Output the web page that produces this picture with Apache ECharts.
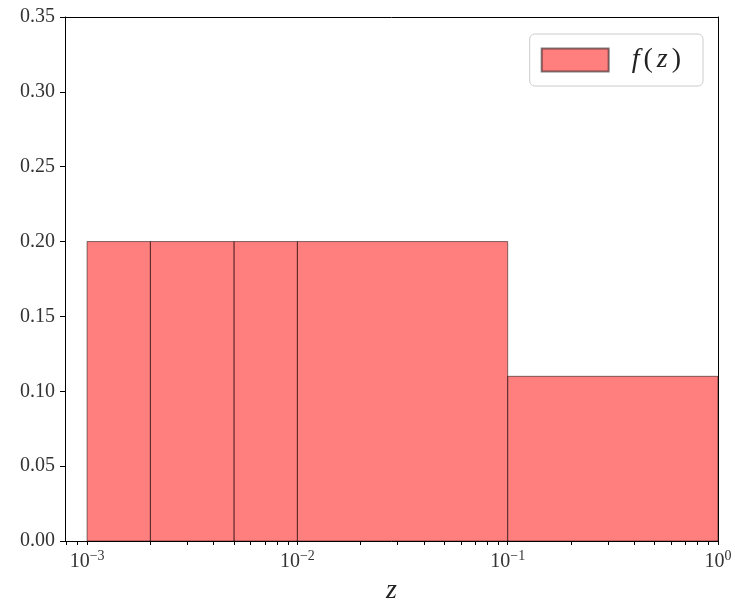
<!DOCTYPE html>
<html>
<head>
<meta charset="utf-8">
<script src="https://cdn.jsdelivr.net/npm/echarts@6/dist/echarts.min.js"></script>
<style>
  html, body { margin: 0; padding: 0; background: #fff; }
  #chart { width: 735px; height: 603px; }
</style>
</head>
<body>
<div id="chart"></div>
<script>
// histogram bins (z edges) and their heights
const binEdges = [0.001, 0.002, 0.005, 0.01, 0.1, 1];
const binHeights = [0.2, 0.2, 0.2, 0.2, 0.11];
const majorExponents = [-3, -2, -1, 0];

const xMin = -3.105, xMax = 0;
const serif = '"Liberation Serif", "DejaVu Serif", serif';

// minor log ticks 2..9 x 10^n inside the range
const minorTicks = [];
for (let n = -4; n <= -1; n++) {
  for (let k = 2; k <= 9; k++) {
    const v = Math.log10(k * Math.pow(10, n));
    if (v > xMin && v < xMax) minorTicks.push(v);
  }
}

const bars = binHeights.map((h, i) => [Math.log10(binEdges[i]), Math.log10(binEdges[i + 1]), h]);

// plain frame axes for the top/right spines
const frameLine = { show: true, onZero: false, lineStyle: { color: '#000', width: 1 } };

const chart = echarts.init(document.getElementById('chart'));
chart.setOption({
  animation: false,
  grid: {
    left: 65, right: 17, top: 17, bottom: 62,
    outerBoundsMode: 'none',
    containLabel: false
  },
  legend: {
    right: 32, top: 34,
    padding: [12, 18, 12, 11],
    borderColor: '#ccc', borderWidth: 1, borderRadius: 5,
    itemWidth: 67, itemHeight: 23, itemGap: 10,
    data: [{ name: 'f(z)', icon: 'rect' }],
    formatter: () => '{i|f}{r|(}{i|z}{r|)}',
    textStyle: {
      padding: [0, 0, 0, 18],
      rich: {
        i: { fontFamily: serif, fontStyle: 'italic', fontSize: 28, color: '#222', lineHeight: 30 },
        r: { fontFamily: serif, fontSize: 28, color: '#222', lineHeight: 30, padding: [0, 4, 0, 4] }
      }
    }
  },
  xAxis: [{
    type: 'value', min: xMin, max: xMax, position: 'bottom',
    name: 'z', nameLocation: 'middle', nameGap: 30,
    nameTextStyle: { fontFamily: serif, fontStyle: 'italic', fontSize: 28, color: '#222' },
    axisLine: frameLine,
    axisTick: { show: true, length: 4, inside: false, customValues: majorExponents.concat(minorTicks), lineStyle: { color: '#000' } },
    axisLabel: {
      customValues: majorExponents, margin: 8,
      formatter: v => '{b|10}{s|' + (v < 0 ? '\u2212' : '') + Math.abs(v) + '}',
      rich: {
        b: { fontFamily: serif, fontSize: 20, color: '#333' },
        s: { fontFamily: serif, fontSize: 14, color: '#333', padding: [0, 0, 11, 0] }
      }
    },
    splitLine: { show: false }
  }, {
    type: 'value', min: xMin, max: xMax, position: 'top',
    axisLine: frameLine, axisTick: { show: false }, axisLabel: { show: false }, splitLine: { show: false }
  }],
  yAxis: [{
    type: 'value', min: 0, max: 0.35, interval: 0.05, position: 'left',
    axisLine: frameLine,
    axisTick: { show: true, length: 5, lineStyle: { color: '#000' } },
    axisLabel: {
      margin: 10, fontFamily: serif, fontSize: 20, color: '#333',
      formatter: v => v.toFixed(2)
    },
    splitLine: { show: false }
  }, {
    type: 'value', min: 0, max: 0.35, interval: 0.05, position: 'right',
    axisLine: frameLine, axisTick: { show: false }, axisLabel: { show: false }, splitLine: { show: false }
  }],
  series: [{
    name: 'f(z)',
    type: 'custom',
    xAxisIndex: 0,
    yAxisIndex: 0,
    itemStyle: { color: 'rgba(255,0,0,0.5)', borderColor: 'rgba(0,0,0,0.5)', borderWidth: 1 },
    encode: { x: [0, 1], y: 2 },
    renderItem: (params, api) => {
      const p0 = api.coord([api.value(0), api.value(2)]);
      const p1 = api.coord([api.value(1), 0]);
      return {
        type: 'rect',
        shape: { x: p0[0], y: p0[1], width: p1[0] - p0[0], height: p1[1] - p0[1] },
        style: { fill: 'rgba(255,0,0,0.5)', stroke: 'rgba(0,0,0,0.5)', lineWidth: 1 }
      };
    },
    data: bars
  }]
});
</script>
</body>
</html>
